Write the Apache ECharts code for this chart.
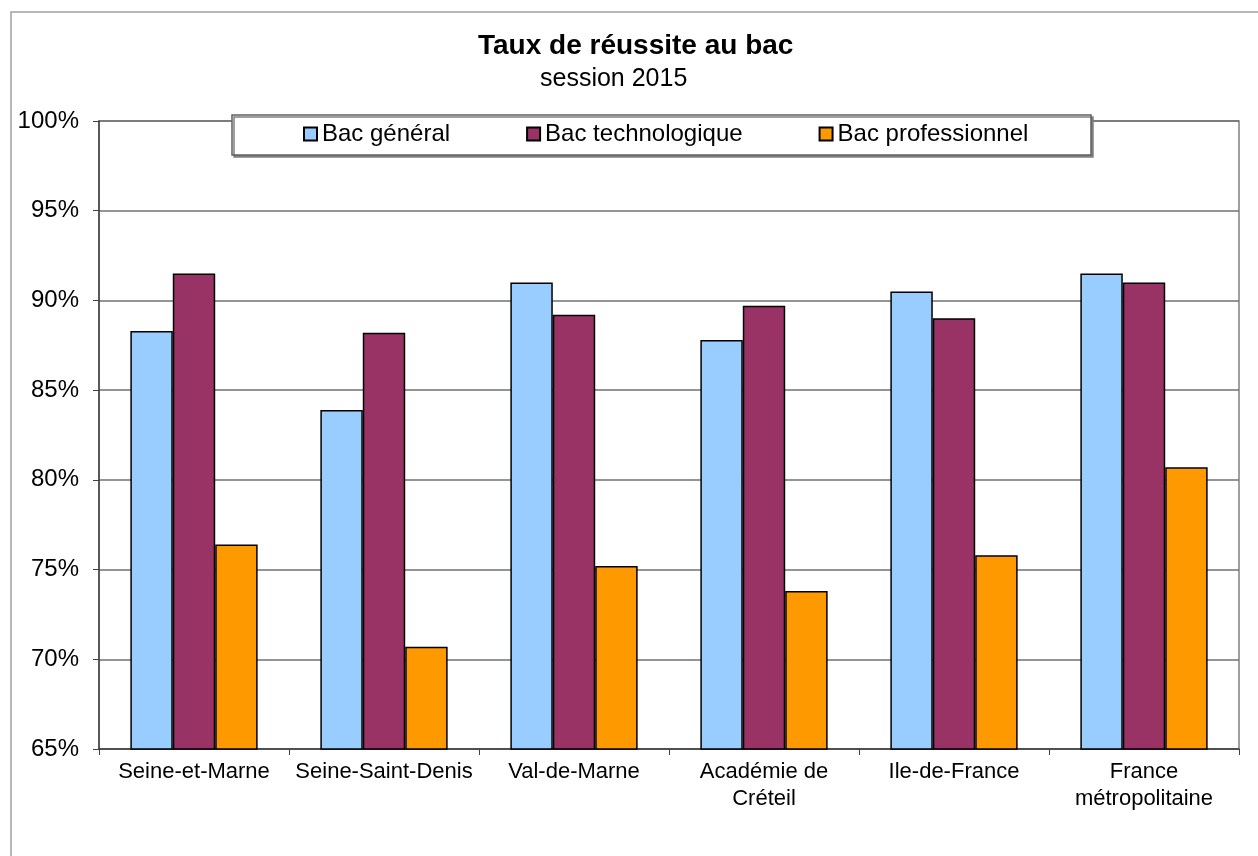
<!DOCTYPE html>
<html>
<head>
<meta charset="utf-8">
<title>Taux de réussite au bac</title>
<script src="https://cdn.jsdelivr.net/npm/echarts@6/dist/echarts.min.js"></script>
<style>
  html, body { margin: 0; padding: 0; background: #fff; }
  #chart { width: 1258px; height: 856px; }
</style>
</head>
<body>
<div id="chart"></div>
<script>
// données (en %)
const categories = ['Seine-et-Marne', 'Seine-Saint-Denis', 'Val-de-Marne', 'Académie de\nCréteil', 'Ile-de-France', 'France\nmétropolitaine']
const bacGeneral = [88.3, 83.9, 91.0, 87.8, 90.5, 91.5]
const bacTechno = [91.5, 88.2, 89.2, 89.7, 89.0, 91.0]
const bacPro = [76.4, 70.7, 75.2, 73.8, 75.8, 80.7]
const seriesNames = ['Bac général', 'Bac technologique', 'Bac professionnel']
const seriesColors = ['#99ccff', '#993366', '#ff9900']

const font = "'Liberation Sans', Arial, sans-serif"

const myChart = echarts.init(document.getElementById('chart'))

const makeBar = (name, data, color) => ({
    name: name,
    type: 'bar',
    data: data,
    barGap: '0%',
    barCategoryGap: '33%',
    itemStyle: { color: color, borderColor: '#000', borderWidth: 1.5 }
})

myChart.setOption({
    backgroundColor: '#fff',
    animation: false,
    title: [
        {
            text: 'Taux de réussite au bac',
            left: 473,
            top: 27,
            textStyle: { fontFamily: font, fontSize: 28, fontWeight: 'bold', color: '#000' }
        },
        {
            text: 'session 2015',
            left: 535,
            top: 62,
            textStyle: { fontFamily: font, fontSize: 25, fontWeight: 'normal', color: '#000' }
        }
    ],
    graphic: [
        {
            type: 'rect',
            z: 0,
            shape: { x: 11, y: 12, width: 1260, height: 860 },
            style: { fill: 'none', stroke: '#a0a0a0', lineWidth: 1.5 }
        },
        {
            type: 'rect',
            z: 3,
            shape: { x: 232, y: 115, width: 859, height: 40 },
            style: {
                fill: '#fff', stroke: '#606060', lineWidth: 1.5,
                shadowColor: '#808080', shadowOffsetX: 2, shadowOffsetY: 2, shadowBlur: 0
            }
        }
    ],
    legend: {
        z: 5,
        left: 303,
        top: 122,
        padding: 0,
        itemWidth: 13,
        itemHeight: 13,
        itemGap: 76,
        icon: 'rect',
        data: seriesNames,
        textStyle: { fontFamily: font, fontSize: 24, color: '#000' }
    },
    grid: {
        left: 99,
        right: 19,
        top: 121,
        bottom: 107,
        show: true,
        borderColor: '#808080',
        borderWidth: 1.5
    },
    xAxis: {
        type: 'category',
        data: categories,
        axisLine: { lineStyle: { color: '#404040', width: 1.5 } },
        axisTick: { show: true, length: 6, lineStyle: { color: '#404040' } },
        axisLabel: {
            fontFamily: font, fontSize: 22, color: '#000',
            lineHeight: 27, margin: 9, interval: 0
        }
    },
    yAxis: {
        type: 'value',
        min: 65,
        max: 100,
        interval: 5,
        axisLine: { show: true, lineStyle: { color: '#404040', width: 1.5 } },
        axisTick: { show: true, length: 6, lineStyle: { color: '#404040' } },
        splitLine: { lineStyle: { color: '#707070', width: 1.5 } },
        axisLabel: {
            fontFamily: font, fontSize: 24, color: '#000', margin: 20,
            formatter: '{value}%'
        }
    },
    series: [
        makeBar(seriesNames[0], bacGeneral, seriesColors[0]),
        makeBar(seriesNames[1], bacTechno, seriesColors[1]),
        makeBar(seriesNames[2], bacPro, seriesColors[2])
    ]
})
</script>
</body>
</html>
